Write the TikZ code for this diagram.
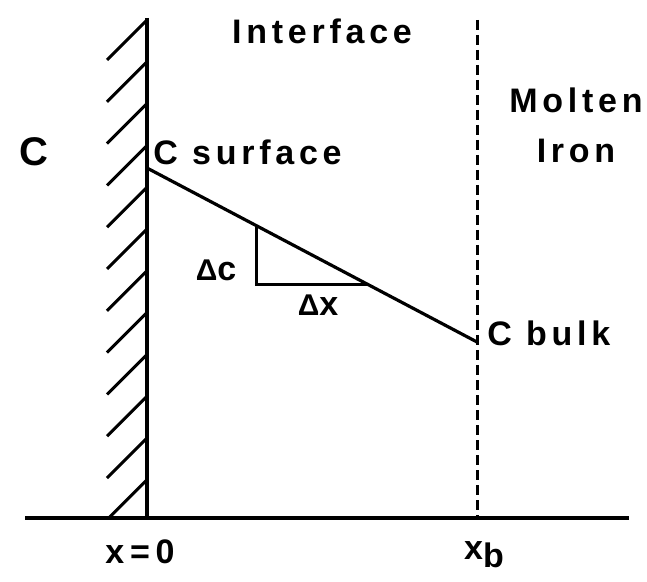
\documentclass[tikz,border=0pt]{standalone}
\usepackage{fontspec}
\setmainfont{Liberation Sans}
\usepackage{tikz}
\usetikzlibrary{positioning,calc}
\newfontfamily\lblfont{Liberation Sans Bold}[LetterSpace=14]

\begin{document}
\begin{tikzpicture}[x=0.5pt,y=-0.5pt,
  lbl/.style={inner sep=0pt,font=\lblfont\fontsize{17}{25}\selectfont,align=center},
  wall/.style={line width=1.8pt},
  hatch/.style={line width=1.5pt},
  bound/.style={line width=1.5pt,dash pattern=on 5pt off 2.5pt},
  profile/.style={line width=1.6pt}]
\useasboundingbox (0,0) rectangle (647,582);
% axis and wall
\coordinate (axl)   at (25,518);
\coordinate (axr)   at (629,518);
\coordinate (wtop)  at (147,18);
\coordinate (wbot)  at (147,518);
\coordinate (btop)  at (477,20);
\coordinate (bbot)  at (477,518);
\draw[wall] (axl) -- (axr);
\draw[wall] (wtop) -- (wbot);
\begin{scope}
  \clip (0,0) rectangle (wbot);
  \foreach \k in {0,...,11}
    \draw[hatch] (147,{20+41.8*\k}) -- ++(-40,40);
\end{scope}
\draw[bound] (btop) -- (bbot);
% concentration profile
\coordinate (csurf) at (147,168);
\coordinate (cbulk) at (477,342);
\draw[profile] (csurf) -- (cbulk);
\coordinate (tri1) at (256,227);
\coordinate (tri2) at (256,285);
\coordinate (tri3) at (369,285);
\draw[line width=1.5pt] (tri1) -- (tri2) -- (tri3);
% labels
\node[lbl,font=\lblfont\fontsize{20}{25}\selectfont] (carbon) at (34,152) {C};
\node[lbl] (interface) at (322,31)   {Interface};
\node[lbl,anchor=west] (surf) at (153,152) {C surface};
\node[lbl] (iron)      at (576,125)  {Molten\\Iron};
\node[lbl] (dc)        at (216,270)  {{\fontsize{15}{15}\selectfont Δ}c};
\node[lbl] (dx)        at (318,305)  {{\fontsize{15}{15}\selectfont Δ}x};
\node[lbl,anchor=west] (bulk) at (487,333) {C bulk};
\node[lbl] (xzero)     at (140,552)  {x\,=\,0};
\node[lbl] (xb)        at (484,555)  {x\raisebox{-0.45ex}{b}};
\end{tikzpicture}
\end{document}
